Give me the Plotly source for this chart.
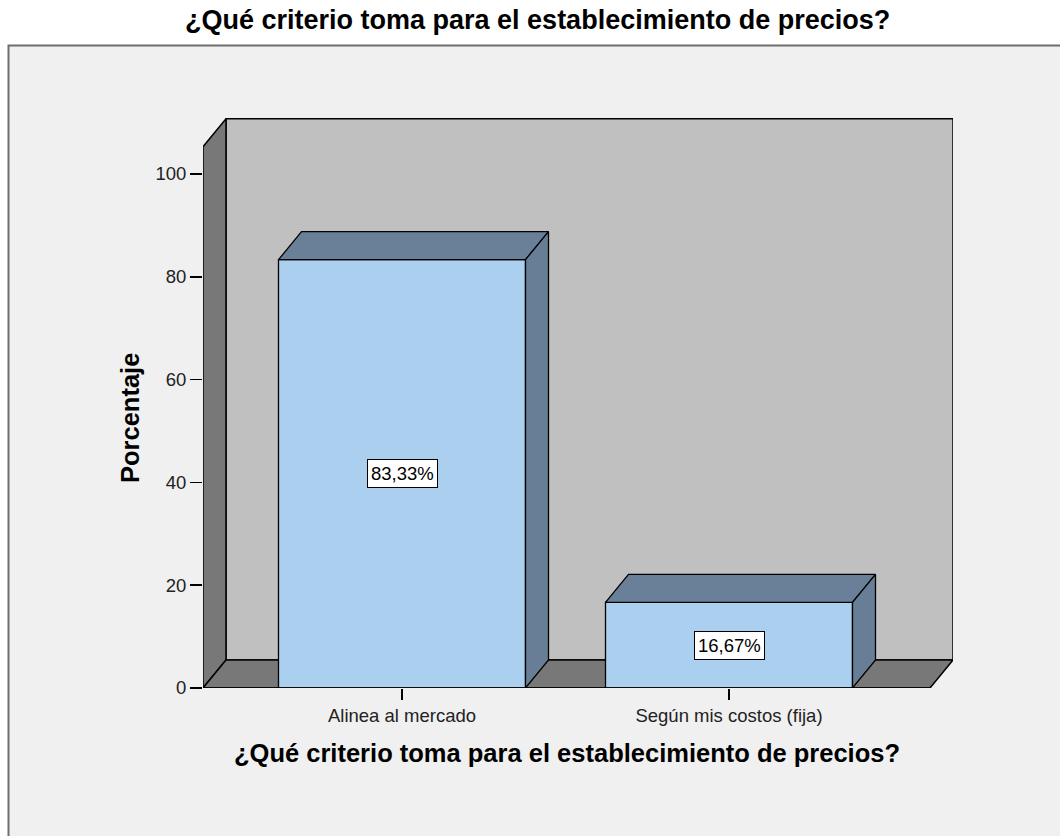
import plotly.graph_objects as go

# ---- data ----
categories = ["Alinea al mercado", "Según mis costos (fija)"]
percentages = [83.33, 16.67]
value_labels = ["83,33%", "16,67%"]
y_ticks = [0, 20, 40, 60, 80, 100]
title_text = "¿Qué criterio toma para el establecimiento de precios?"
x_title = "¿Qué criterio toma para el establecimiento de precios?"
y_title = "Porcentaje"

# ---- geometry / style ----
OFF = 0                     # page body margin removed via post_script
W, H = 1060, 836
ML, MT = 203 - OFF, 118 - OFF
PW, PH = 750, 570
MR, MB = W - ML - PW, H - MT - PH
PX_PER_CAT = 327.0
PX_PER_PCT = 5.14
X0 = -199.0 / PX_PER_CAT
X1 = X0 + PW / PX_PER_CAT
Y1 = PH / PX_PER_PCT
DX = 23.0 / PX_PER_CAT
DY = 28.0 / PX_PER_PCT
BAR_W = 247.0 / PX_PER_CAT
WALL_TOP = 105.3
XR_FRONT = X1 - DX

FRONT = "#ABCFEE"
TOPC = "#6A8098"
SIDEC = "#677E96"
WALL = "#C0C0C0"
SIDEWALL = "#787878"
FONT = "Liberation Sans, Arial, sans-serif"

xs = list(range(len(categories)))

def px_x(p):  # page pixel -> paper
    return (p - OFF - ML) / PW

def px_y(p):
    return (MT + PH - (p - OFF)) / PH

fig = go.Figure()

shapes = []
# outer frame
shapes.append(dict(type="rect", xref="paper", yref="paper",
                   x0=px_x(8.5), x1=px_x(1080), y0=px_y(45.5), y1=px_y(900),
                   fillcolor="#F0F0F0", line=dict(color="#6E6E6E", width=2), layer="below"))
# back wall
shapes.append(dict(type="rect", xref="x", yref="y",
                   x0=X0 + DX, x1=X1, y0=DY, y1=WALL_TOP + DY,
                   fillcolor=WALL, line=dict(color="black", width=1.5), layer="below"))
# left wall
shapes.append(dict(type="path", xref="x", yref="y",
                   path=f"M{X0},0 L{X0},{WALL_TOP} L{X0+DX},{WALL_TOP+DY} L{X0+DX},{DY} Z",
                   fillcolor=SIDEWALL, line=dict(color="black", width=1.5), layer="below"))
# floor
shapes.append(dict(type="path", xref="x", yref="y",
                   path=f"M{X0},0 L{X0+DX},{DY} L{X1},{DY} L{XR_FRONT},0 Z",
                   fillcolor=SIDEWALL, line=dict(color="black", width=1.5), layer="below"))

# front faces
fig.add_trace(go.Bar(x=xs, y=percentages, width=BAR_W,
                     marker=dict(color=FRONT, line=dict(color="black", width=1.3)),
                     hoverinfo="skip", showlegend=False))

# top and side faces
for x, v in zip(xs, percentages):
    l, r = x - BAR_W / 2, x + BAR_W / 2
    fig.add_trace(go.Scatter(
        x=[l, l + DX, r + DX, r, l], y=[v, v + DY, v + DY, v, v],
        fill="toself", fillcolor=TOPC, mode="lines",
        line=dict(color="black", width=1.3), hoverinfo="skip", showlegend=False))
    fig.add_trace(go.Scatter(
        x=[r, r + DX, r + DX, r, r], y=[0, DY, v + DY, v, 0],
        fill="toself", fillcolor=SIDEC, mode="lines",
        line=dict(color="black", width=1.3), hoverinfo="skip", showlegend=False))

# x axis front line
shapes.append(dict(type="line", xref="x", yref="y", x0=X0, x1=XR_FRONT, y0=0, y1=0,
                   line=dict(color="black", width=1.5)))

annotations = []
for x, v, t in zip(xs, percentages, value_labels):
    annotations.append(dict(x=x, y=v / 2, xref="x", yref="y", text=t, showarrow=False,
                            font=dict(family=FONT, size=18.5, color="black"),
                            bgcolor="white", bordercolor="black", borderwidth=1, borderpad=3))

annotations.append(dict(xref="paper", yref="paper", x=px_x(537), y=px_y(20),
                        text=f"<b>{title_text}</b>", showarrow=False,
                        font=dict(family=FONT, size=27, color="black"),
                        xanchor="center", yanchor="middle"))
annotations.append(dict(xref="paper", yref="paper", x=px_x(567), y=px_y(753),
                        text=f"<b>{x_title}</b>", showarrow=False,
                        font=dict(family=FONT, size=25.5, color="black"),
                        xanchor="center", yanchor="middle"))
annotations.append(dict(xref="paper", yref="paper", x=px_x(130), y=px_y(418),
                        text=f"<b>{y_title}</b>", showarrow=False, textangle=-90,
                        font=dict(family=FONT, size=25.5, color="black"),
                        xanchor="center", yanchor="middle"))

fig.update_layout(
    width=W, height=H,
    margin=dict(l=ML, r=MR, t=MT, b=MB),
    paper_bgcolor="white", plot_bgcolor="rgba(0,0,0,0)",
    shapes=shapes, annotations=annotations,
    showlegend=False, bargap=0,
    xaxis=dict(range=[X0, X1], tickmode="array", tickvals=xs, ticktext=categories,
               ticks="outside", ticklen=11, tickwidth=1.5, tickcolor="black", showgrid=False,
               zeroline=False, showline=False, fixedrange=True, ticklabelstandoff=0,
               tickfont=dict(family=FONT, size=18.5, color="#222")),
    yaxis=dict(range=[0, Y1], tickmode="array", tickvals=y_ticks,
               ticks="outside", ticklen=12, tickwidth=1.5, tickcolor="black", showgrid=False,
               zeroline=False, showline=False, fixedrange=True, ticklabelstandoff=0,
               tickfont=dict(family=FONT, size=18.5, color="#222")),
)

fig.write_html("out.html",
               config={"displayModeBar": False, "staticPlot": True},
               post_script="document.body.style.margin='0px';document.body.style.overflow='hidden';")
